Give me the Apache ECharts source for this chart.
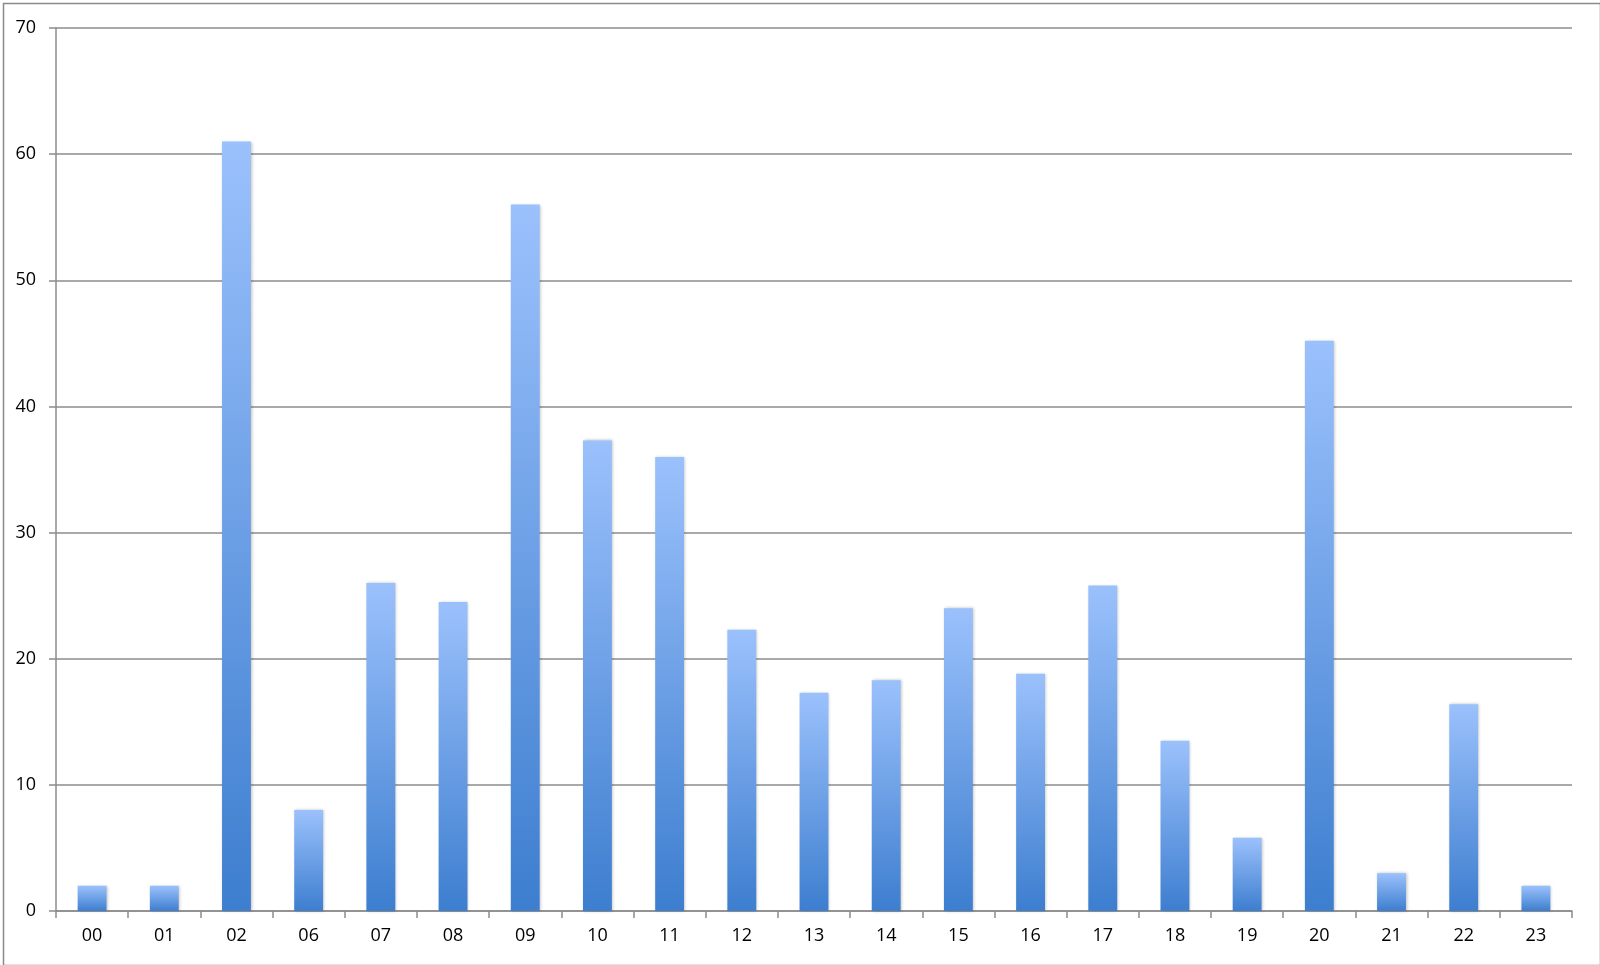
<!DOCTYPE html>
<html>
<head>
<meta charset="utf-8">
<script src="https://cdn.jsdelivr.net/npm/echarts@6/dist/echarts.min.js"></script>
<style>html,body{margin:0;padding:0;background:#fff;}#c{width:1600px;height:965px;}</style>
</head>
<body>
<div id="c"></div>
<script>
const categories = ['00','01','02','06','07','08','09','10','11','12','13','14','15','16','17','18','19','20','21','22','23'];
const values = [2, 2, 61, 8, 26, 24.5, 56, 37.3, 36, 22.3, 17.3, 18.3, 24, 18.8, 25.8, 13.5, 5.8, 45.2, 3, 16.4, 2];
const yTicks = { min: 0, max: 70, interval: 10 };

const chart = echarts.init(document.getElementById('c'), null, { renderer: 'canvas' });
const font = 'Open Sans';
chart.setOption({
  backgroundColor: '#ffffff',
  animation: false,
  graphic: [{
    type: 'rect', left: 1, top: 1, silent: true,
    shape: { x: 0, y: 0, width: 1597, height: 962 },
    style: { fill: 'none', stroke: '#8a8a8a', lineWidth: 1.5 }
  }],
  grid: { left: 56, right: 28, top: 28, bottom: 54, containLabel: false },
  xAxis: {
    type: 'category',
    data: categories,
    boundaryGap: true,
    axisLine: { show: true, lineStyle: { color: '#8c8c8c', width: 1.5 } },
    axisTick: { show: true, length: 7, lineStyle: { color: '#8c8c8c', width: 1.5 } },
    axisLabel: { color: '#000', fontFamily: font, fontSize: 18, margin: 16, interval: 0 },
    splitLine: { show: false }
  },
  yAxis: {
    type: 'value',
    min: yTicks.min, max: yTicks.max, interval: yTicks.interval,
    axisLine: { show: true, lineStyle: { color: '#8c8c8c', width: 1.5 } },
    axisTick: { show: true, length: 7, lineStyle: { color: '#8c8c8c', width: 1.5 } },
    axisLabel: { color: '#000', fontFamily: font, fontSize: 18, margin: 20 },
    splitLine: { show: true, lineStyle: { color: '#8c8c8c', width: 1.5 } }
  },
  series: [{
    type: 'bar',
    data: values,
    barWidth: '40%',
    itemStyle: {
      color: new echarts.graphic.LinearGradient(0, 0, 0, 1, [
        { offset: 0, color: '#9bc1fc' },
        { offset: 1, color: '#3d7ecf' }
      ]),
      shadowColor: 'rgba(0,0,0,0.25)',
      shadowBlur: 3,
      shadowOffsetX: 1,
      shadowOffsetY: 0
    }
  }]
});
</script>
</body>
</html>
